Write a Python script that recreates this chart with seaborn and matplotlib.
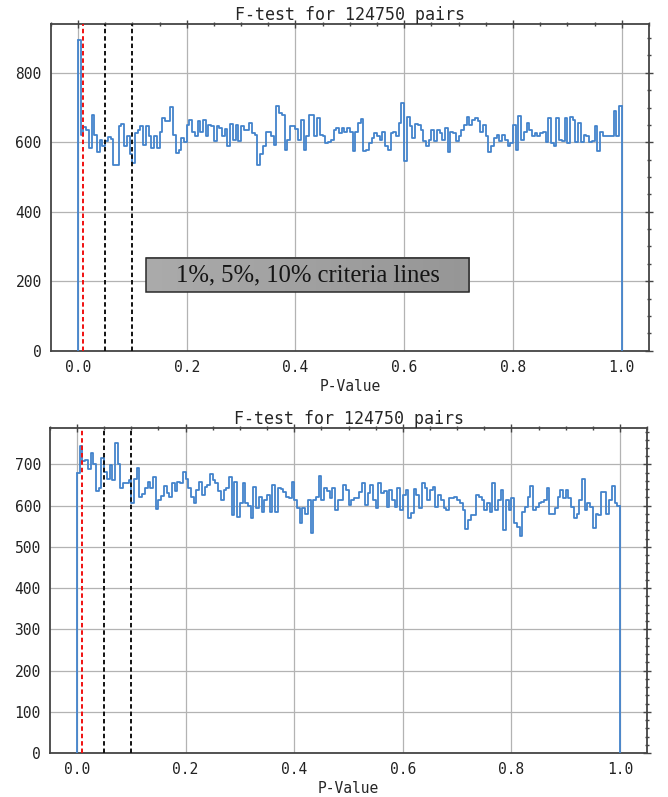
import numpy as np
import pandas as pd
import matplotlib
matplotlib.use("Agg")
import matplotlib.pyplot as plt
import seaborn as sns
from matplotlib.colors import LinearSegmentedColormap
from matplotlib.patches import Rectangle
from matplotlib.ticker import MultipleLocator

# ---------------------------------------------------------------------------
# Data: p-value histograms, 200 equal bins on [0, 1]
# ---------------------------------------------------------------------------
N_BINS = 200
bin_edges = np.linspace(0.0, 1.0, N_BINS + 1)

counts_top = [
    895, 620, 643, 636, 583, 679, 622, 571, 606, 588,
    603, 615, 609, 536, 534, 646, 652, 588, 617, 565,
    541, 627, 636, 646, 591, 646, 617, 584, 617, 584,
    629, 670, 660, 660, 701, 622, 569, 579, 612, 600,
    650, 663, 631, 619, 660, 631, 663, 617, 650, 647,
    603, 647, 641, 617, 638, 588, 653, 607, 650, 603,
    647, 636, 636, 655, 627, 622, 536, 565, 588, 631,
    631, 617, 593, 705, 684, 679, 579, 607, 646, 646,
    638, 607, 663, 577, 617, 679, 679, 617, 670, 622,
    617, 598, 600, 607, 636, 641, 627, 641, 631, 641,
    631, 574, 631, 655, 667, 574, 579, 598, 612, 627,
    617, 607, 631, 588, 579, 627, 631, 617, 657, 713,
    545, 672, 646, 612, 653, 650, 636, 603, 588, 607,
    636, 603, 636, 628, 607, 641, 571, 631, 627, 603,
    617, 634, 650, 674, 650, 665, 670, 660, 631, 650,
    617, 571, 588, 612, 622, 603, 622, 607, 590, 598,
    650, 579, 676, 607, 631, 657, 636, 617, 627, 617,
    627, 631, 600, 670, 598, 588, 670, 607, 603, 670,
    598, 674, 665, 600, 657, 600, 622, 619, 600, 603,
    646, 574, 631, 617, 619, 617, 617, 689, 617, 705,
]

counts_bottom = [
    680, 744, 709, 712, 690, 729, 702, 636, 642, 715,
    682, 666, 698, 662, 751, 702, 642, 654, 654, 662,
    607, 666, 692, 622, 628, 644, 658, 642, 669, 591,
    615, 624, 648, 630, 620, 656, 636, 658, 654, 682,
    666, 642, 622, 606, 638, 658, 627, 646, 650, 677,
    662, 654, 636, 615, 638, 644, 669, 577, 658, 573,
    606, 656, 606, 599, 569, 646, 594, 620, 585, 614,
    627, 585, 650, 585, 644, 640, 634, 622, 618, 658,
    614, 594, 557, 594, 581, 614, 533, 614, 622, 672,
    614, 642, 636, 618, 644, 590, 614, 614, 650, 638,
    602, 614, 618, 618, 634, 654, 602, 630, 650, 614,
    594, 654, 630, 636, 598, 638, 614, 598, 642, 590,
    626, 638, 569, 583, 640, 626, 594, 656, 644, 614,
    638, 646, 596, 626, 614, 594, 590, 618, 618, 620,
    614, 606, 590, 543, 565, 577, 577, 626, 622, 614,
    590, 606, 585, 656, 590, 614, 638, 540, 614, 590,
    618, 557, 549, 527, 585, 598, 622, 648, 590, 598,
    606, 610, 614, 642, 581, 581, 594, 622, 638, 618,
    638, 618, 598, 569, 581, 614, 664, 590, 606, 598,
    545, 581, 577, 634, 634, 581, 614, 648, 606, 599,
]

criteria = [0.01, 0.05, 0.10]
criteria_colors = ["#f01010", "#111111", "#111111"]
panel_title = "F-test for 124750 pairs"
x_label = "P-Value"
note_text = "1%, 5%, 10% criteria lines"

# ---------------------------------------------------------------------------
# Style
# ---------------------------------------------------------------------------
BLUE = "#4383cc"
SPINE = "#444444"

sns.set_style("white")
plt.rcParams["font.family"] = ["DejaVu Sans Mono"]
plt.rcParams.update({
    "axes.edgecolor": SPINE,
    "axes.linewidth": 1.3,
    "xtick.color": SPINE,
    "ytick.color": SPINE,
    "xtick.labelcolor": "#222222",
    "ytick.labelcolor": "#222222",
})

fig = plt.figure(figsize=(6.68, 7.97), dpi=100)
ax_top = fig.add_axes([0.0760, 0.5600, 0.8954, 0.4095])
ax_bot = fig.add_axes([0.0746, 0.0552, 0.8943, 0.4078])


def draw_panel(ax, counts, y_major, y_minor):
    centers = (bin_edges[:-1] + bin_edges[1:]) / 2
    df = pd.DataFrame({"p": centers, "n": counts})
    sns.histplot(data=df, x="p", weights="n", bins=bin_edges.tolist(),
                 element="step", fill=False, color=BLUE,
                 linewidth=1.3, ax=ax, zorder=3)
    # close the outline down to zero at both ends of the range
    ax.plot([bin_edges[0]] * 2, [0, counts[0]], color=BLUE, lw=1.3, zorder=3)
    ax.plot([bin_edges[-1]] * 2, [0, counts[-1]], color=BLUE, lw=1.3, zorder=3)

    for xc, col in zip(criteria, criteria_colors):
        ax.axvline(xc, color=col, lw=1.4, ls=(0, (2.3, 1.5)), zorder=4)

    ax.set_xlim(-0.05, 1.05)
    ax.set_ylim(0, max(counts) * 1.05)

    ax.xaxis.set_major_locator(MultipleLocator(0.2))
    ax.xaxis.set_minor_locator(MultipleLocator(0.05))
    ax.yaxis.set_major_locator(MultipleLocator(y_major))
    ax.yaxis.set_minor_locator(MultipleLocator(y_minor))

    ax.tick_params(which="both", direction="inout", top=True, right=True,
                   width=1.0, labelsize=10.5)
    ax.tick_params(which="major", length=6)
    ax.tick_params(which="minor", length=3.5)

    ax.grid(True, which="major", color="#b3b3b3", lw=0.9)
    ax.set_axisbelow(True)
    for s in ax.spines.values():
        s.set_visible(True)

    ax.set_ylabel("")
    ax.set_xlabel(x_label, fontsize=10.5, labelpad=3)
    ax.set_title(panel_title, fontsize=12, pad=3)


draw_panel(ax_top, counts_top, 200, 50)
draw_panel(ax_bot, counts_bottom, 100, 20)

# Grey caption box inside the upper panel
bx0, bx1, by0, by1 = 0.125, 0.720, 168, 268
grad = np.linspace(0, 1, 256).reshape(1, -1)
box_cmap = LinearSegmentedColormap.from_list("box", ["#ababab", "#969696"])
ax_top.imshow(grad, extent=[bx0, bx1, by0, by1], aspect="auto",
              cmap=box_cmap, zorder=5, interpolation="bilinear")
ax_top.add_patch(Rectangle((bx0, by0), bx1 - bx0, by1 - by0, fill=False,
                           edgecolor="#2a2a2a", lw=1.1, zorder=6))
ax_top.text((bx0 + bx1) / 2, (by0 + by1) / 2, note_text, ha="center",
            va="center", fontsize=17.7, family=["Liberation Serif"],
            color="#151515", zorder=7)
ax_top.set_xlim(-0.05, 1.05)
ax_top.set_ylim(0, max(counts_top) * 1.05)

fig.savefig("out.png", dpi=100)
